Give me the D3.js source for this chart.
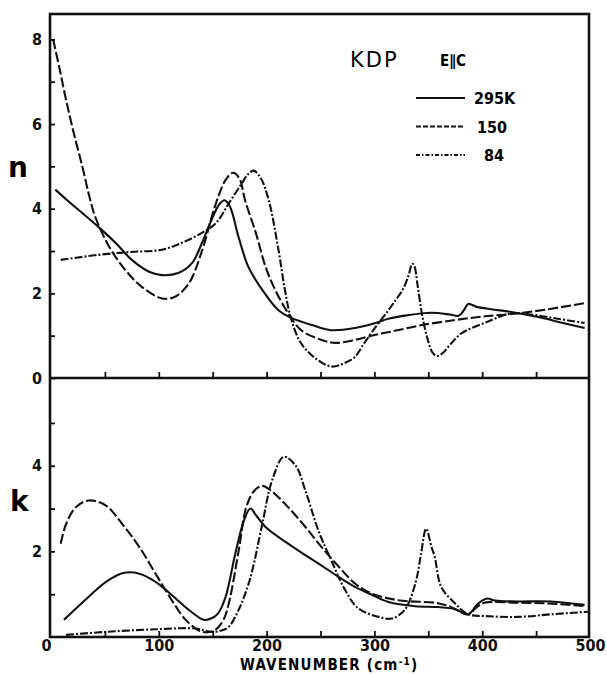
<!DOCTYPE html>
<html>
<head>
<meta charset="utf-8">
<script src="https://cdnjs.cloudflare.com/ajax/libs/d3/7.8.5/d3.min.js"></script>
<style>
  body { margin: 0; background: #fff; }
  svg { display: block; }
  .tick text { font-family: "DejaVu Sans Condensed", "Liberation Sans Narrow", sans-serif; font-weight: bold; font-size: 16px; fill: #111; }
  .tick line { stroke: #111; stroke-width: 1.8; }
</style>
</head>
<body>
<svg id="chart"></svg>
<script>
// wavenumber (cm-1), value pairs
const n295 = [[4,4.45],[15,4.2],[29,3.9],[44,3.57],[60,3.19],[75,2.79],[91,2.51],[103,2.43],[118,2.48],[131,2.72],[140,3.19],[149,3.74],[156,4.1],[161,4.2],[166,4.05],[174,3.33],[183,2.63],[196,2.08],[211,1.6],[223,1.42],[242,1.25],[260,1.13],[282,1.18],[301,1.3],[313,1.4],[330,1.48],[353,1.54],[370,1.5],[378,1.47],[383,1.6],[387,1.75],[395,1.68],[410,1.62],[427,1.56],[452,1.44],[475,1.3],[495,1.18]];
const n150 = [[2,8.0],[8,7.3],[14,6.57],[21,5.8],[29,5.0],[35,4.35],[41,3.81],[54,3.1],[69,2.55],[84,2.16],[103,1.88],[115,1.92],[128,2.24],[140,3.0],[152,4.05],[162,4.68],[169,4.85],[175,4.7],[180,4.2],[190,3.43],[199,2.63],[208,2.08],[220,1.53],[232,1.13],[251,0.9],[264,0.83],[282,0.9],[301,1.02],[320,1.12],[344,1.25],[375,1.37],[400,1.45],[430,1.52],[460,1.62],[495,1.77]];
const n84 = [[9,2.79],[44,2.91],[75,2.98],[103,3.03],[121,3.19],[140,3.43],[153,3.66],[165,4.13],[177,4.6],[183,4.82],[188,4.9],[195,4.7],[202,4.2],[211,3.03],[217,2.08],[223,1.37],[232,0.82],[245,0.47],[260,0.27],[272,0.35],[282,0.5],[290,0.8],[301,1.2],[313,1.6],[320,1.85],[327,2.12],[332,2.45],[335,2.7],[337,2.65],[340,2.2],[344,1.53],[349,0.95],[354,0.6],[358,0.52],[363,0.58],[370,0.78],[381,1.06],[405,1.33],[427,1.53],[445,1.5],[470,1.4],[495,1.3]];

const k295 = [[12,0.4],[35,0.94],[51,1.29],[68,1.5],[82,1.48],[97,1.29],[112,0.98],[128,0.63],[142,0.4],[150,0.45],[155,0.55],[162,0.94],[171,1.95],[179,2.72],[185,3.0],[190,2.85],[199,2.57],[220,2.18],[236,1.91],[251,1.67],[267,1.4],[282,1.17],[298,0.98],[313,0.82],[338,0.72],[359,0.7],[375,0.65],[387,0.53],[395,0.75],[400,0.85],[405,0.9],[412,0.85],[433,0.83],[464,0.83],[495,0.75]];
const k150 = [[9,2.18],[14,2.64],[23,3.03],[35,3.19],[51,3.07],[66,2.64],[82,2.1],[97,1.48],[112,0.86],[125,0.4],[140,0.12],[152,0.16],[160,0.4],[165,0.79],[174,2.0],[181,3.02],[188,3.4],[196,3.53],[205,3.4],[220,3.03],[236,2.57],[251,2.1],[267,1.64],[282,1.25],[297,1.02],[322,0.86],[359,0.79],[371,0.7],[387,0.53],[395,0.7],[402,0.8],[433,0.8],[464,0.78],[495,0.72]];
const k84 = [[14,0.05],[51,0.12],[97,0.18],[134,0.2],[149,0.12],[158,0.15],[165,0.24],[174,0.63],[180,1.0],[186,1.48],[196,2.64],[205,3.65],[216,4.21],[227,4.0],[236,3.42],[248,2.49],[260,1.79],[273,1.09],[285,0.67],[304,0.47],[316,0.43],[328,0.63],[338,1.25],[343,1.9],[348,2.53],[353,2.1],[356,1.87],[362,1.17],[375,0.78],[387,0.53],[402,0.49],[433,0.47],[464,0.53],[498,0.59]];

const temps = ['295K', '150', '84'];
const dashes = [null, '10,3', '8,2,2,2'];
const xTicks = [0, 50, 100, 150, 200, 250, 300, 350, 400, 450, 500];

(function() {
  const width = 607;
  const height = 674;
  const frameL = 50, frameR = 589, frameT = 14, frameM = 378, frameB = 637;
  const font = '"DejaVu Sans Condensed", "Liberation Sans Narrow", sans-serif';

  const svg = d3.select('#chart')
    .attr('width', width)
    .attr('height', height)
    .style('background', '#fff');

  const x = d3.scaleLinear().domain([0, 500]).range([51, 590]);
  const yN = d3.scaleLinear().domain([0, 8.6]).range([frameM, frameT]);
  const yK = d3.scaleLinear().domain([0, 6.05]).range([frameB, frameM]);

  /**
   * axes
   */
  svg.append('g')
    .attr('transform', 'translate(' + frameL + ',0)')
    .call(d3.axisLeft(yN).tickValues([0, 1, 2, 3, 4, 5, 6, 7, 8]).tickSize(-5).tickPadding(8)
      .tickFormat(d => d % 2 === 0 ? d : ''))
    .call(g => g.select('.domain').remove());

  svg.append('g')
    .attr('transform', 'translate(' + frameL + ',0)')
    .call(d3.axisLeft(yK).tickValues([1, 2, 3, 4, 5]).tickSize(-5).tickPadding(8)
      .tickFormat(d => (d === 2 || d === 4) ? d : ''))
    .call(g => g.select('.domain').remove());

  svg.append('g')
    .attr('transform', 'translate(0,' + frameM + ')')
    .call(d3.axisBottom(x).tickValues(xTicks.slice(1, -1)).tickSize(-6).tickFormat(''))
    .call(g => g.select('.domain').remove());

  svg.append('g')
    .attr('transform', 'translate(0,' + frameB + ')')
    .call(d3.axisBottom(x).tickValues(xTicks).tickSize(-6).tickPadding(3)
      .tickFormat(d => d % 100 === 0 ? d : ''))
    .call(g => g.select('.domain').remove())
    .call(g => g.selectAll('.tick line').filter(d => d === 0 || d === 500).remove())
    .call(g => g.selectAll('.tick text').filter(d => d === 0).attr('x', -5));

  // frame
  svg.append('rect')
    .attr('x', frameL).attr('y', frameT)
    .attr('width', frameR - frameL).attr('height', frameB - frameT)
    .attr('fill', 'none').attr('stroke', '#111').attr('stroke-width', 2.6);
  svg.append('line')
    .attr('x1', frameL).attr('x2', frameR).attr('y1', frameM).attr('y2', frameM)
    .attr('stroke', '#111').attr('stroke-width', 2.6);

  /**
   * curves
   */
  const lineN = d3.line().x(d => x(d[0])).y(d => yN(d[1])).curve(d3.curveCatmullRom);
  const lineK = d3.line().x(d => x(d[0])).y(d => yK(d[1])).curve(d3.curveCatmullRom);

  [[n295, k295], [n150, k150], [n84, k84]].forEach(function(pair, i) {
    svg.append('path')
      .attr('d', lineN(pair[0]))
      .attr('fill', 'none').attr('stroke', '#111')
      .attr('stroke-width', 2.1)
      .attr('stroke-dasharray', dashes[i]);
    svg.append('path')
      .attr('d', lineK(pair[1]))
      .attr('fill', 'none').attr('stroke', '#111')
      .attr('stroke-width', 2.1)
      .attr('stroke-dasharray', dashes[i]);
  });

  /**
   * labels + legend
   */
  svg.append('text').attr('x', 8).attr('y', 177)
    .style('font-family', 'DejaVu Sans, sans-serif').style('font-weight', 'bold').style('font-size', '28px')
    .text('n');
  svg.append('text').attr('x', 10).attr('y', 511)
    .style('font-family', 'DejaVu Sans, sans-serif').style('font-weight', 'bold').style('font-size', '28px')
    .text('k');

  svg.append('text').attr('x', 350).attr('y', 67)
    .style('font-family', 'DejaVu Sans, sans-serif').style('font-size', '21px')
    .style('letter-spacing', '2px')
    .text('KDP');
  svg.append('text').attr('x', 440).attr('y', 66)
    .style('font-family', font).style('font-weight', 'bold').style('font-size', '15px')
    .text('E\u2225C');

  const legend = svg.selectAll('.legend')
    .data(temps)
    .enter().append('g')
    .attr('class', 'legend')
    .attr('transform', (d, i) => 'translate(416,' + (98 + i * 28.5) + ')');

  legend.append('line')
    .attr('x1', 0).attr('x2', 49)
    .attr('stroke', '#111').attr('stroke-width', 1.8)
    .attr('stroke-dasharray', (d, i) => ['', '5,2', '4,2,1.5,2'][i] || null);

  legend.append('text')
    .attr('x', (d, i) => [58, 61, 68][i])
    .attr('y', 6)
    .style('font-family', font).style('font-weight', 'bold').style('font-size', '16px')
    .text(d => d);

  const xlab = svg.append('text').attr('x', 240).attr('y', 670)
    .style('font-family', font).style('font-weight', 'bold').style('font-size', '15px')
    .style('letter-spacing', '1.2px');
  xlab.append('tspan').text('WAVENUMBER  (cm');
  xlab.append('tspan').attr('dy', -5).style('font-size', '10px').text('-1');
  xlab.append('tspan').attr('dy', 5).text(')');
})();
</script>
</body>
</html>
